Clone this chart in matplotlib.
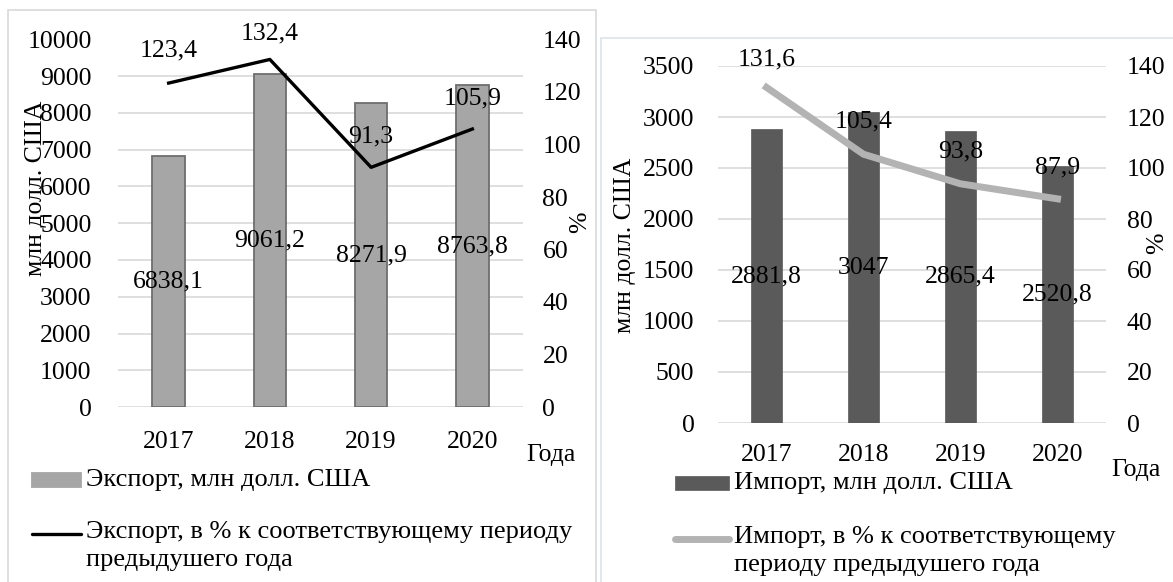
import matplotlib.pyplot as plt
from matplotlib.patches import Rectangle
from matplotlib.lines import Line2D

plt.rcParams['font.family'] = ['Liberation Serif', 'DejaVu Serif']

years = ['2017', '2018', '2019', '2020']
export_vals = [6838.1, 9061.2, 8271.9, 8763.8]
export_pct = [123.4, 132.4, 91.3, 105.9]
import_vals = [2881.8, 3047, 2865.4, 2520.8]
import_pct = [131.6, 105.4, 93.8, 87.9]

export_labels = ['6838,1', '9061,2', '8271,9', '8763,8']
export_pct_labels = ['123,4', '132,4', '91,3', '105,9']
import_labels = ['2881,8', '3047', '2865,4', '2520,8']
import_pct_labels = ['131,6', '105,4', '93,8', '87,9']

W, H = 1173, 582
fig = plt.figure(figsize=(W / 100, H / 100), dpi=100)
FS = 18.5
LFS = 19


def px(x0, y0, x1, y1):
    # pixel box (top-left origin) -> figure fraction
    return [x0 / W, 1 - y1 / H, (x1 - x0) / W, (y1 - y0) / H]


# panel frames
fig.patches.append(Rectangle((8 / W, -0.01), (596 - 8) / W, 1.01 - 10 / H, transform=fig.transFigure,
                             fill=False, edgecolor='#d9d9d9', lw=1.2))
fig.patches.append(Rectangle((601 / W, -0.01), (1180 - 601) / W, 1.01 - 38 / H, transform=fig.transFigure,
                             fill=False, edgecolor='#dde3e8', lw=1.2))


def panel(box, vals, pct, vlabels, plabels, ymax, ystep, bar_kw, line_kw, bw,
          lpad, rpad, xpad, pct_off, ylab_xy, pct_xy, goda_xy, leg):
    ax = fig.add_axes(px(*box))
    x = range(len(years))
    ax.bar(x, vals, width=bw, zorder=2, **bar_kw)
    ax.set_ylim(0, ymax)
    ax.set_yticks(range(0, ymax + 1, ystep))
    ax.set_xlim(-0.5, 3.5)
    ax.set_xticks(list(x))
    ax.set_xticklabels(years)
    ax.grid(axis='y', color='#d9d9d9', lw=1.2, zorder=0)
    ax.set_axisbelow(True)
    for s in ax.spines.values():
        s.set_visible(False)
    ax.tick_params(length=0, labelsize=FS, pad=lpad)
    ax.tick_params(axis='x', pad=xpad)
    for i, v in enumerate(vals):
        ax.text(i, v / 2, vlabels[i], ha='center', va='center', fontsize=FS, zorder=5)

    ax2 = ax.twinx()
    ax2.plot(list(x), pct, zorder=3, **line_kw)
    ax2.set_ylim(0, 140)
    ax2.set_yticks(range(0, 141, 20))
    for s in ax2.spines.values():
        s.set_visible(False)
    ax2.tick_params(length=0, labelsize=FS, pad=rpad)
    for i, v in enumerate(pct):
        ax2.annotate(plabels[i], (i, v), xytext=(0, pct_off[i]), textcoords='offset pixels',
                     ha='center', va='center', fontsize=FS, zorder=5)

    fig.text(ylab_xy[0] / W, 1 - ylab_xy[1] / H, 'млн долл. США', rotation=90,
             ha='center', va='center', fontsize=FS)
    fig.text(pct_xy[0] / W, 1 - pct_xy[1] / H, '%', rotation=90, ha='center', va='center', fontsize=FS)
    fig.text(goda_xy[0] / W, 1 - goda_xy[1] / H, 'Года', ha='center', va='center', fontsize=FS)

    # legend drawn by hand
    (bx0, bx1, by), (lx0, lx1, ly), t1, t2 = leg
    fig.patches.append(Rectangle((bx0 / W, 1 - (by + 7) / H), (bx1 - bx0) / W, 14 / H,
                                 transform=fig.transFigure, zorder=5, **bar_kw))
    fig.text((bx1 + 5) / W, 1 - by / H, t1, ha='left', va='center', fontsize=LFS)
    fig.lines.append(Line2D([lx0 / W, lx1 / W], [1 - ly / H, 1 - ly / H], transform=fig.transFigure,
                            color=line_kw['color'], lw=line_kw['lw'], solid_capstyle='round'))
    fig.text((lx1 + 5) / W, 1 - (ly - 13) / H, t2, ha='left', va='top', fontsize=LFS, linespacing=1.35)


panel((118, 39.5, 523, 407), export_vals, export_pct, export_labels, export_pct_labels,
      10000, 1000, dict(color='#a6a6a6', edgecolor='#6e6e6e', linewidth=1.3),
      dict(color='black', lw=2.4), 0.32, 19, 14, 17, [33, 26, 31, 31],
      (36, 188), (580, 222), (551, 455),
      ((32, 81, 480), (32, 81, 534), 'Экспорт, млн долл. США',
       'Экспорт, в % к соответствующему периоду\nпредыдушего года'))

panel((718, 66, 1106, 423), import_vals, import_pct, import_labels, import_pct_labels,
      3500, 500, dict(color='#5a5a5a', edgecolor='#5a5a5a', linewidth=0.5),
      dict(color='#b3b3b3', lw=5), 0.315, 17, 15, 15, [28, 33, 32, 31],
      (625, 245), (1157, 243), (1136, 470),
      ((675, 729, 483), (675, 729, 539), 'Импорт, млн долл. США',
       'Импорт, в % к соответствующему\nпериоду предыдушего года'))

fig.savefig('out.png', dpi=100)
